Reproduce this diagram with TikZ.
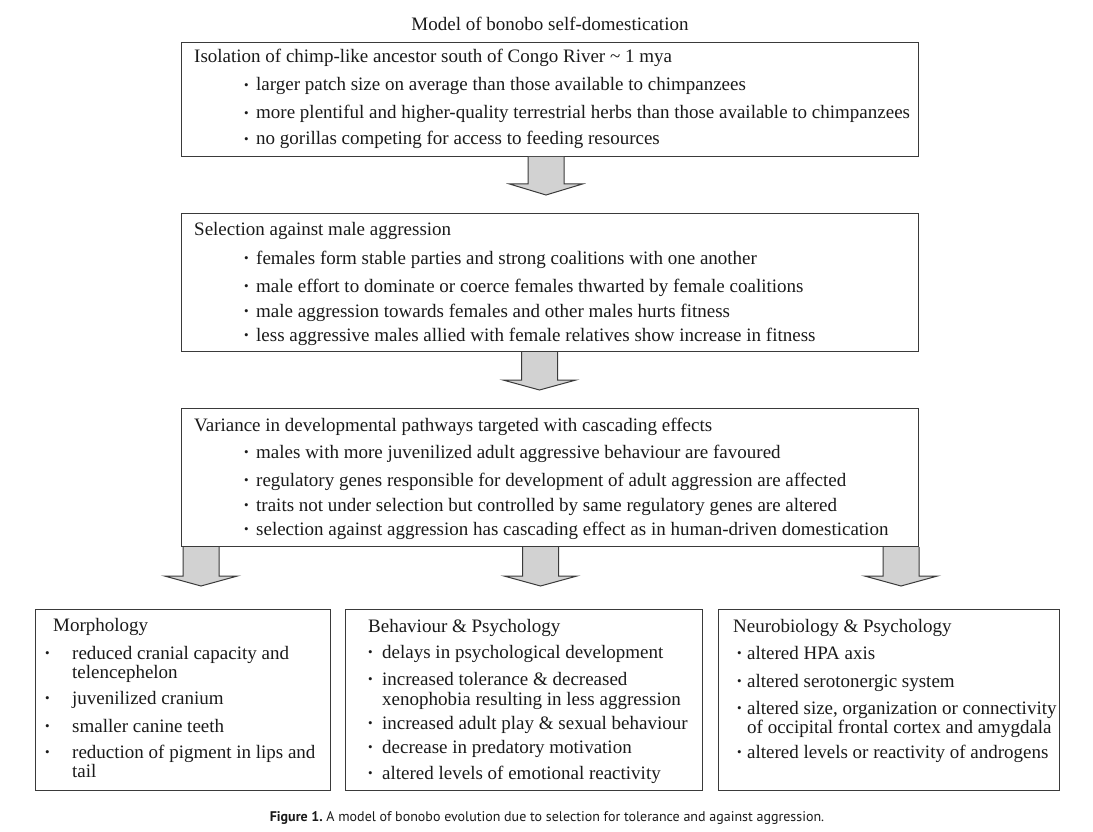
\documentclass[tikz,border=0pt]{standalone}
\usepackage{fontspec}
\setmainfont{Liberation Serif}
\newfontfamily\capfont{PT Sans}
\usetikzlibrary{calc}
\definecolor{boxc}{HTML}{3A3A3A}
\definecolor{arrc}{HTML}{D2D2D2}
\definecolor{txtc}{HTML}{1A1A1A}
\newcommand{\mainsz}{\fontsize{19}{20}\selectfont}
\newcommand{\bl}{\raisebox{1.4pt}{\fontsize{13}{13}\selectfont\textbullet}}
\newcommand{\bitem}[1]{\makebox[#1][l]{\bl}}
\newcommand{\fatarrow}[3]{%
  \draw[arr] ($(#1)+(-18,0)$) -- ($(#1)+(-18,#2)$) -- ($(#1)+(-36.5,#2)$) -- ($(#1)+(0,#3)$)
    -- ($(#1)+(36.5,#2)$) -- ($(#1)+(18,#2)$) -- ($(#1)+(18,0)$);}
\begin{document}
\begin{tikzpicture}[x=1pt,y=-1pt,
  box/.style={draw=boxc, line width=1pt, anchor=north west, inner sep=0},
  t/.style={anchor=base west, inner sep=0, font=\mainsz, text=txtc},
  arr/.style={draw=boxc, line width=1pt, fill=arrc, line join=miter}]
\fill[white] (0,0) rectangle (1093,832);
\useasboundingbox (0,0) rectangle (1093,832);

% title
\node[anchor=base, inner sep=0, font=\mainsz, text=txtc] (ttl) at (550,31) {Model of bonobo self-domestication};

% boxes
\node[box, minimum width=737pt, minimum height=114pt] (b1) at (181,42) {};
\node[box, minimum width=737pt, minimum height=138pt] (b2) at (181,213) {};
\node[box, minimum width=737pt, minimum height=138pt] (b3) at (181,408) {};
\node[box, minimum width=295pt, minimum height=181pt] (b4) at (35,609) {};
\node[box, minimum width=357pt, minimum height=181pt] (b5) at (345,609) {};
\node[box, minimum width=341pt, minimum height=181pt] (b6) at (718,609) {};

% arrow anchors
\coordinate (x1) at (546,0);
\coordinate (x2) at (539.5,0);
\coordinate (x3) at (201,0);
\coordinate (x4) at (540.5,0);
\coordinate (x5) at (901,0);
\coordinate (a1) at (b1.south -| x1);
\coordinate (a2) at (b2.south -| x2);
\coordinate (a3) at (b3.south -| x3);
\coordinate (a4) at (b3.south -| x4);
\coordinate (a5) at (b3.south -| x5);
\fatarrow{a1}{27}{38}
\fatarrow{a2}{28}{38}
\fatarrow{a3}{29}{39}
\fatarrow{a4}{29}{39}
\fatarrow{a5}{29}{39}

% box 1
\node[t] (b1t) at (194,63) {Isolation of chimp-like ancestor south of Congo River \textasciitilde{} 1 mya};
\node[t] (b1i1) at (244,91) {\bitem{12pt}larger patch size on average than those available to chimpanzees};
\node[t] (b1i2) at (244,119) {\bitem{12pt}more plentiful and higher-quality terrestrial herbs than those available to chimpanzees};
\node[t] (b1i3) at (244,145) {\bitem{12pt}no gorillas competing for access to feeding resources};

% box 2
\node[t] (b2t) at (194,235) {Selection against male aggression};
\node[t] (b2i1) at (244,264) {\bitem{12pt}females form stable parties and strong coalitions with one another};
\node[t] (b2i2) at (244,292) {\bitem{12pt}male effort to dominate or coerce females thwarted by female coalitions};
\node[t] (b2i3) at (244,317) {\bitem{12pt}male aggression towards females and other males hurts fitness};
\node[t] (b2i4) at (244,341) {\bitem{12pt}less aggressive males allied with female relatives show increase in fitness};

% box 3
\node[t] (b3t) at (194,431) {Variance in developmental pathways targeted with cascading effects};
\node[t] (b3i1) at (244,458) {\bitem{12pt}males with more juvenilized adult aggressive behaviour are favoured};
\node[t] (b3i2) at (244,486) {\bitem{12pt}regulatory genes responsible for development of adult aggression are affected};
\node[t] (b3i3) at (244,511) {\bitem{12pt}traits not under selection but controlled by same regulatory genes are altered};
\node[t] (b3i4) at (244,535) {\bitem{12pt}selection against aggression has cascading effect as in human-driven domestication};

% box 4
\node[t] (b4t) at (53,631) {Morphology};
\node[t] (b4i1) at (45,659) {\bitem{27pt}reduced cranial capacity and};
\node[t] (b4i1b) at (72,678) {telencephelon};
\node[t] (b4i2) at (45,704) {\bitem{27pt}juvenilized cranium};
\node[t] (b4i3) at (45,732) {\bitem{27pt}smaller canine teeth};
\node[t] (b4i4) at (45,758) {\bitem{27pt}reduction of pigment in lips and};
\node[t] (b4i4b) at (72,777) {tail};

% box 5
\node[t] (b5t) at (368,632) {Behaviour \& Psychology};
\node[t] (b5i1) at (368,658) {\bitem{14pt}delays in psychological development};
\node[t] (b5i2) at (368,685) {\bitem{14pt}increased tolerance \& decreased};
\node[t] (b5i2b) at (382,705) {xenophobia resulting in less aggression};
\node[t] (b5i3) at (368,729) {\bitem{14pt}increased adult play \& sexual behaviour};
\node[t] (b5i4) at (368,753) {\bitem{14pt}decrease in predatory motivation};
\node[t] (b5i5) at (368,779) {\bitem{14pt}altered levels of emotional reactivity};

% box 6
\node[t] (b6t) at (733,632) {Neurobiology \& Psychology};
\node[t] (b6i1) at (737,659) {\bitem{10pt}altered HPA axis};
\node[t] (b6i2) at (737,687) {\bitem{10pt}altered serotonergic system};
\node[t] (b6i3) at (737,714) {\bitem{10pt}altered size, organization or connectivity};
\node[t] (b6i3b) at (747,733) {of occipital frontal cortex and amygdala};
\node[t] (b6i4) at (737,758) {\bitem{10pt}altered levels or reactivity of androgens};

% caption
\node[anchor=base, inner sep=0, font=\capfont\fontsize{14}{16}\selectfont, text=txtc] (cap) at (547,821)
  {\textbf{Figure 1.}\ A model of bonobo evolution due to selection for tolerance and against aggression.};
\end{tikzpicture}
\end{document}
